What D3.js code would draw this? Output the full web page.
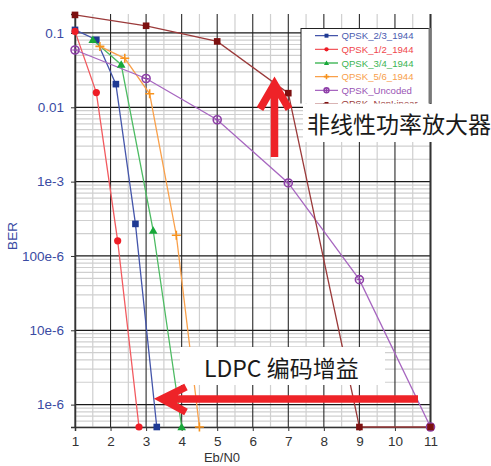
<!DOCTYPE html>
<html>
<head>
<meta charset="utf-8">
<script src="https://cdn.jsdelivr.net/npm/d3@7"></script>
<style>
  body { margin: 0; background: #fff; }
  svg { display: block; font-family: "Liberation Sans", Arial, sans-serif; }
</style>
</head>
<body>
<div id="chart"></div>
<script>
// Data
const xTicks = [1, 2, 3, 4, 5, 6, 7, 8, 9, 10, 11];
const yTickValues = [0.1, 0.01, 1e-3, 1e-4, 1e-5, 1e-6];
const yTickLabels = ["0.1", "0.01", "1e-3", "100e-6", "10e-6", "1e-6"];

const qpsk23X = [1, 1.6, 2.15, 2.7, 3.3];
const qpsk23Y = [0.11, 0.081, 0.0205, 2.7e-4, 5e-7];
const qpsk12X = [1, 1.6, 2.2, 2.8];
const qpsk12Y = [0.105, 0.0158, 1.6e-4, 5e-7];
const qpsk34X = [1.5, 2.3, 3.2, 4];
const qpsk34Y = [0.081, 0.0375, 2.2e-4, 5e-7];
const qpsk56X = [1.7, 2.4, 3.1, 3.85, 4.5];
const qpsk56Y = [0.066, 0.0456, 0.0152, 1.9e-4, 5e-7];
const uncodedX = [1, 3, 5, 7, 9, 11];
const uncodedY = [0.059, 0.0244, 0.0068, 9.6e-4, 4.8e-5, 5e-7];
const nonlinX = [1, 3, 5, 7, 9, 11];
const nonlinY = [0.175, 0.125, 0.077, 0.0155, 5e-7, 5e-7];

const series = [
  { name: "QPSK_2/3_1944", xs: qpsk23X, ys: qpsk23Y, line: "#4455aa", mark: "#1f3a93", text: "#4a5bb0", shape: "square" },
  { name: "QPSK_1/2_1944", xs: qpsk12X, ys: qpsk12Y, line: "#f25a5f", mark: "#ee1c25", text: "#f0464c", shape: "circle" },
  { name: "QPSK_3/4_1944", xs: qpsk34X, ys: qpsk34Y, line: "#4cbb62", mark: "#18a83a", text: "#3cb454", shape: "triangle" },
  { name: "QPSK_5/6_1944", xs: qpsk56X, ys: qpsk56Y, line: "#f9a04a", mark: "#f7931e", text: "#f8a04c", shape: "plus" },
  { name: "QPSK_Uncoded", xs: uncodedX, ys: uncodedY, line: "#a766c0", mark: "#8e3fa8", text: "#9a55b5", shape: "ocircle" },
  { name: "QPSK_NonLinear", xs: nonlinX, ys: nonlinY, line: "#9b3a3a", mark: "#7d1010", text: "#9b3a3a", shape: "square" }
];

const width = 491, height = 466;
const plotLeft = 75, plotRight = 430.5, plotTop = 14, plotBottom = 427;

const svg = d3.select("#chart").append("svg")
  .attr("width", width)
  .attr("height", height);

const x = d3.scaleLinear().domain([1, 11]).range([plotLeft, plotRight]);
const y = d3.scaleLog().domain([5e-7, 0.18]).range([plotBottom, plotTop]);

// grid
const grid = svg.append("g");
const halfTicks = d3.range(1.5, 11, 1);
grid.selectAll(".vminor").data(halfTicks).enter().append("line")
  .attr("x1", d => x(d)).attr("x2", d => x(d))
  .attr("y1", plotTop).attr("y2", plotBottom)
  .attr("stroke", "#cfcfcf").attr("stroke-width", 1.2);

const minorY = [];
for (let e = -7; e <= -1; e++) {
  for (let m = 2; m <= 9; m++) {
    const v = m * Math.pow(10, e);
    if (v >= 5e-7 && v <= 0.18) minorY.push(v);
  }
}
grid.selectAll(".hminor").data(minorY).enter().append("line")
  .attr("x1", plotLeft).attr("x2", plotRight)
  .attr("y1", d => y(d)).attr("y2", d => y(d))
  .attr("stroke", "#cfcfcf").attr("stroke-width", 1.2);

grid.selectAll(".vmajor").data(xTicks).enter().append("line")
  .attr("x1", d => x(d)).attr("x2", d => x(d))
  .attr("y1", plotTop).attr("y2", plotBottom)
  .attr("stroke", "#2a2a2a").attr("stroke-width", 1.1);

grid.selectAll(".hmajor").data(yTickValues).enter().append("line")
  .attr("x1", plotLeft).attr("x2", plotRight)
  .attr("y1", d => y(d)).attr("y2", d => y(d))
  .attr("stroke", "#1a1a1a").attr("stroke-width", 1.2);

// axes
const xAxis = svg.append("g")
  .attr("transform", `translate(0,${plotBottom})`)
  .call(d3.axisBottom(x).tickValues(xTicks).tickSize(4).tickFormat(d3.format("d")));
xAxis.select(".domain").attr("stroke", "#333").attr("stroke-width", 1.5);
xAxis.selectAll(".tick line").attr("stroke", "#333");
xAxis.selectAll("text").attr("fill", "#333").attr("font-size", "13.5px")
  .attr("font-family", "Liberation Sans, Arial, sans-serif").attr("dy", "0.9em");

const yAxis = svg.append("g")
  .attr("transform", `translate(${plotLeft},0)`)
  .call(d3.axisLeft(y).tickValues(yTickValues).tickSize(4)
    .tickFormat((d, i) => yTickLabels[i]));
yAxis.select(".domain").attr("stroke", "#333").attr("stroke-width", 1.5);
yAxis.selectAll(".tick line").attr("stroke", "#333");
yAxis.selectAll("text").attr("fill", "#3a4ba3").attr("font-size", "13.5px")
  .attr("font-family", "Liberation Sans, Arial, sans-serif").attr("x", -11);

svg.append("line")
  .attr("x1", plotRight).attr("x2", plotRight).attr("y1", plotTop).attr("y2", plotBottom)
  .attr("stroke", "#333").attr("stroke-width", 2);

svg.append("text")
  .attr("x", 222).attr("y", 462)
  .attr("text-anchor", "middle")
  .attr("font-size", "13px").attr("fill", "#333")
  .text("Eb/N0");

svg.append("text")
  .attr("transform", "translate(17,236) rotate(-90)")
  .attr("text-anchor", "middle")
  .attr("font-size", "13.5px").attr("fill", "#3a4ba3")
  .text("BER");

// marker drawing
function drawMarker(g, shape, color, cx, cy, s) {
  s = s || 1;
  if (shape === "square") {
    g.append("rect").attr("x", cx - 3.3 * s).attr("y", cy - 3.3 * s)
      .attr("width", 6.6 * s).attr("height", 6.6 * s).attr("fill", color);
  } else if (shape === "circle") {
    g.append("circle").attr("cx", cx).attr("cy", cy).attr("r", 3.6 * s).attr("fill", color);
  } else if (shape === "triangle") {
    const r = 4.3 * s;
    g.append("path")
      .attr("d", `M${cx},${cy - r} L${cx + r},${cy + r * 0.75} L${cx - r},${cy + r * 0.75} Z`)
      .attr("fill", color);
  } else if (shape === "plus") {
    const r = 4.5 * s;
    g.append("path")
      .attr("d", `M${cx - r},${cy} H${cx + r} M${cx},${cy - r} V${cy + r}`)
      .attr("stroke", color).attr("stroke-width", 1.6).attr("fill", "none");
  } else if (shape === "ocircle") {
    const r = 4 * s;
    g.append("circle").attr("cx", cx).attr("cy", cy).attr("r", r)
      .attr("fill", "none").attr("stroke", color).attr("stroke-width", 1.6);
    const k = r * 0.7;
    g.append("path")
      .attr("d", `M${cx - k},${cy} H${cx + k} M${cx},${cy - k} V${cy + k}`)
      .attr("stroke", color).attr("stroke-width", 1);
  }
}

// series lines and markers
const lineGen = d3.line().x(d => x(d[0])).y(d => y(d[1]));
const plot = svg.append("g");
series.forEach(s => {
  const pts = s.xs.map((v, i) => [v, s.ys[i]]);
  plot.append("path").datum(pts)
    .attr("d", lineGen)
    .attr("fill", "none")
    .attr("stroke", s.line)
    .attr("stroke-width", 1.3);
});
series.forEach(s => {
  const g = plot.append("g");
  s.xs.forEach((v, i) => drawMarker(g, s.shape, s.mark, x(v), y(s.ys[i])));
});

// legend (its lower part is hidden under the annotation box, as in the reference)
svg.append("clipPath").attr("id", "legclip")
  .append("rect").attr("x", 295).attr("y", 20).attr("width", 150).attr("height", 83.5);
const leg = svg.append("g").attr("clip-path", "url(#legclip)");
leg.append("rect")
  .attr("x", 301).attr("y", 28.5).attr("width", 129).attr("height", 90)
  .attr("fill", "#fff").attr("stroke", "#222").attr("stroke-width", 1);
leg.append("line")
  .attr("x1", 430).attr("x2", 430).attr("y1", 28).attr("y2", 104)
  .attr("stroke", "#777").attr("stroke-width", 3);
series.forEach((s, i) => {
  const ly = 35.7 + i * 13.65;
  leg.append("line")
    .attr("x1", 315).attr("x2", 338).attr("y1", ly).attr("y2", ly)
    .attr("stroke", s.line).attr("stroke-width", 1.3);
  drawMarker(leg, s.shape, s.mark, 326.5, ly, 0.6);
  leg.append("text")
    .attr("x", 341.5).attr("y", ly + 3.5)
    .attr("font-size", "9.6px")
    .attr("fill", s.text)
    .text(s.name);
});

// annotations
const cjk = "'Noto Sans CJK SC', 'Noto Sans', sans-serif";
svg.append("rect")
  .attr("x", 303).attr("y", 104).attr("width", 188).attr("height", 38)
  .attr("fill", "#fff");
svg.append("text")
  .attr("x", 307).attr("y", 133)
  .attr("font-family", cjk).attr("font-size", "23px").attr("fill", "#1a1a1a")
  .text("非线性功率放大器");

svg.append("rect")
  .attr("x", 180).attr("y", 347).attr("width", 205).attr("height", 38)
  .attr("fill", "#fff");
svg.append("text")
  .attr("x", 204).attr("y", 377)
  .attr("font-family", cjk).attr("font-size", "23px").attr("fill", "#1a1a1a")
  .text("LDPC 编码增益");

const red = "#ee2328";
// up arrow
svg.append("path")
  .attr("d", "M274.5,157 V86 M260,109 L274.5,84 L289,109")
  .attr("fill", "none").attr("stroke", red).attr("stroke-width", 7.5)
  .attr("stroke-linejoin", "miter");
// left arrow
svg.append("path")
  .attr("d", "M418,399 H164 M186,387 L162,399 L186,412")
  .attr("fill", "none").attr("stroke", red).attr("stroke-width", 7.5)
  .attr("stroke-linejoin", "miter");
</script>
</body>
</html>
